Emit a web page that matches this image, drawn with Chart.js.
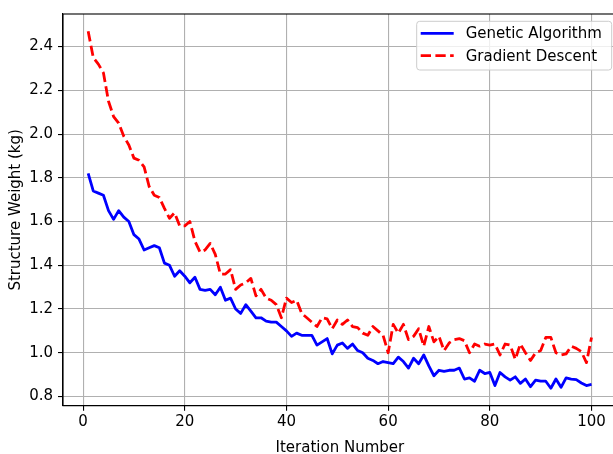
<!DOCTYPE html>
<html>
<head>
<meta charset="utf-8">
<script src="https://cdn.jsdelivr.net/npm/chart.js@4.4.1/dist/chart.umd.min.js"></script>
<style>
  html, body { margin: 0; padding: 0; overflow: hidden; background: #fff; }
  #wrap { width: 620px; height: 454px; }
</style>
</head>
<body>
<div id="wrap"><canvas id="weightChart"></canvas></div>
<script>
const iterations = Array.from({ length: 100 }, (_, i) => i + 1);

const genetic = [
  1.82, 1.74, 1.73, 1.72, 1.65, 1.61, 1.65, 1.62, 1.60, 1.54,
  1.52, 1.47, 1.48, 1.49, 1.48, 1.41, 1.40, 1.35, 1.375, 1.35,
  1.32, 1.345, 1.29, 1.285, 1.29, 1.265, 1.30, 1.24, 1.25, 1.20,
  1.18, 1.22, 1.19, 1.16, 1.16, 1.145, 1.14, 1.14, 1.12, 1.10,
  1.075, 1.09, 1.08, 1.08, 1.08, 1.035, 1.05, 1.065, 0.995, 1.035,
  1.045, 1.02, 1.04, 1.01, 1.00, 0.975, 0.965, 0.95, 0.96, 0.955,
  0.95, 0.98, 0.96, 0.93, 0.975, 0.95, 0.99, 0.94, 0.895, 0.92,
  0.915, 0.92, 0.92, 0.93, 0.88, 0.885, 0.87, 0.92, 0.905, 0.91,
  0.85, 0.91, 0.89, 0.875, 0.89, 0.86, 0.88, 0.845, 0.875, 0.87,
  0.87, 0.838, 0.88, 0.842, 0.885, 0.88, 0.877, 0.862, 0.85, 0.855
];

const gradient = [
  2.47, 2.35, 2.32, 2.28, 2.15, 2.08, 2.05, 1.99, 1.95, 1.89,
  1.88, 1.85, 1.76, 1.72, 1.71, 1.66, 1.615, 1.64, 1.58, 1.58,
  1.60, 1.51, 1.46, 1.47, 1.50, 1.45, 1.36, 1.36, 1.38, 1.29,
  1.31, 1.32, 1.34, 1.26, 1.29, 1.25, 1.24, 1.22, 1.16, 1.25,
  1.23, 1.24, 1.18, 1.16, 1.14, 1.12, 1.16, 1.155, 1.11, 1.15,
  1.13, 1.15, 1.12, 1.115, 1.09, 1.08, 1.12, 1.10, 1.08, 1.00,
  1.13, 1.09, 1.13, 1.06, 1.075, 1.11, 1.03, 1.12, 1.05, 1.075,
  1.01, 1.045, 1.06, 1.065, 1.055, 1.00, 1.04, 1.03, 1.04, 1.035,
  1.04, 0.99, 1.04, 1.035, 0.97, 1.04, 1.00, 0.965, 1.00, 1.01,
  1.07, 1.07, 1.00, 0.99, 0.995, 1.03, 1.02, 1.005, 0.955, 1.07
];

const xTicks = [0, 20, 40, 60, 80, 100];
const yTicks = [0.8, 1.0, 1.2, 1.4, 1.6, 1.8, 2.0, 2.2, 2.4];

const FONT = "'DejaVu Sans', sans-serif";
const FS = 15;

// matplotlib-style frame and legend box
const framePlugin = {
  id: "frame",
  afterDraw(chart) {
    const { ctx, chartArea: a } = chart;
    ctx.save();
    ctx.strokeStyle = "#000";
    ctx.lineWidth = 1.1;
    ctx.strokeRect(a.left, a.top, a.right - a.left, a.bottom - a.top);

    const w = 195, h = 48.7;
    const x0 = a.right - 5 - w, y0 = a.top + 7.3;
    ctx.globalAlpha = 0.8;
    ctx.fillStyle = "#fff";
    ctx.strokeStyle = "#cccccc";
    ctx.lineWidth = 1;
    ctx.beginPath();
    ctx.roundRect(x0, y0, w, h, 3);
    ctx.fill();
    ctx.globalAlpha = 1;
    ctx.stroke();

    ctx.font = FS + "px " + FONT;
    ctx.textBaseline = "middle";
    ctx.fillStyle = "#000";
    chart.data.datasets.forEach((ds, i) => {
      const cy = y0 + 12 + i * 22.4;
      ctx.beginPath();
      ctx.strokeStyle = ds.borderColor;
      ctx.lineWidth = ds.borderWidth;
      ctx.setLineDash(ds.borderDash || []);
      ctx.moveTo(x0 + 4, cy);
      ctx.lineTo(x0 + 37, cy);
      ctx.stroke();
      ctx.setLineDash([]);
      ctx.fillText(ds.label, x0 + 49, cy + 1);
    });
    ctx.restore();
  }
};

new Chart(document.getElementById("weightChart"), {
  type: "line",
  data: {
    datasets: [
      {
        label: "Genetic Algorithm",
        data: iterations.map((x, i) => ({ x, y: genetic[i] })),
        borderColor: "#0000ff",
        borderWidth: 2.8,
        borderJoinStyle: "round",
        pointRadius: 0,
        fill: false
      },
      {
        label: "Gradient Descent",
        data: iterations.map((x, i) => ({ x, y: gradient[i] })),
        borderColor: "#ff0000",
        borderWidth: 2.8,
        borderDash: [10.3, 4.4],
        borderJoinStyle: "round",
        pointRadius: 0,
        fill: false
      }
    ]
  },
  options: {
    responsive: true,
    maintainAspectRatio: false,
    animation: false,
    layout: { padding: { top: 9, right: 3.3, bottom: 0, left: 0 } },
    plugins: { legend: { display: false }, tooltip: { enabled: false } },
    scales: {
      x: {
        type: "linear",
        min: -3.95,
        max: 104.95,
        afterBuildTicks: s => { s.ticks = xTicks.map(v => ({ value: v })); },
        afterFit: s => { s.height = 48.3; },
        grid: { color: "#b0b0b0", lineWidth: 1.1, tickLength: 5, tickColor: "#000", tickWidth: 1.1 },
        border: { color: "#000", width: 1.1 },
        ticks: { color: "#000", font: { family: FONT, size: FS }, padding: 2, maxRotation: 0 },
        title: {
          display: true, text: "Iteration Number", color: "#000",
          font: { family: FONT, size: FS, lineHeight: 0.75 }, padding: 0
        }
      },
      y: {
        min: 0.758,
        max: 2.549,
        afterBuildTicks: s => { s.ticks = yTicks.map(v => ({ value: v })); },
        afterFit: s => { s.width = 63; },
        grid: { color: "#b0b0b0", lineWidth: 1.1, tickLength: 5, tickColor: "#000", tickWidth: 1.1 },
        border: { color: "#000", width: 1.1 },
        ticks: { color: "#000", font: { family: FONT, size: FS }, padding: 5, callback: v => v.toFixed(1) },
        title: {
          display: true, text: "Structure Weight (kg)", color: "#000",
          font: { family: FONT, size: FS, lineHeight: 1 }, padding: { top: 9, bottom: 0 }
        }
      }
    }
  },
  plugins: [framePlugin]
});
</script>
</body>
</html>
